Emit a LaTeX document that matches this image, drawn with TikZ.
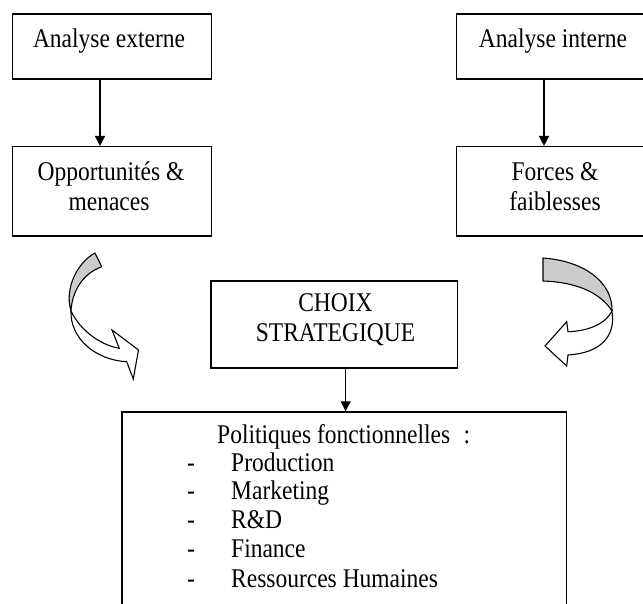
\documentclass[tikz,border=0pt]{standalone}
\usepackage{fontspec}
\setmainfont{Liberation Serif}[FakeStretch=0.87]
\usetikzlibrary{arrows.meta}
\begin{document}
\begin{tikzpicture}[x=1pt,y=-1pt,
  box/.style={draw=black, line width=1.5pt, fill=white, inner sep=0pt},
  txt/.style={font=\fontsize{27pt}{30pt}\selectfont, inner sep=0pt, text=black},
  conn/.style={line width=1.4pt, -{Triangle[width=10pt,length=10pt]}},
  ribbonback/.style={draw=black, line width=1.1pt, fill=black!20, line join=round},
  ribbonfront/.style={draw=black, line width=1.1pt, fill=white, line join=miter}
]
\useasboundingbox (0,0) rectangle (643,603);
\clip (0,0) rectangle (643,603);
\fill[white] (0,0) rectangle (643,603);

% boxes
\node[box, minimum width=199pt, minimum height=65pt] (ae) at (112.2,46.5) {};
\node[box, minimum width=199pt, minimum height=89.3pt] (om) at (112.2,191.35) {};
\node[box, minimum width=199pt, minimum height=65pt] (ai) at (556.2,46.5) {};
\node[box, minimum width=199pt, minimum height=89.3pt] (fb) at (556.2,191.35) {};
\node[box, minimum width=246.3pt, minimum height=87pt] (cs) at (334.15,324.5) {};
\node[box, minimum width=444.7pt, minimum height=208pt] (pf) at (344.35,516) {};

% texts
\node[txt, anchor=base] (t1) at (109,47.3) {Analyse externe};
\node[txt, anchor=base] (t2a) at (111,180) {Opportunités \&};
\node[txt, anchor=base] (t2b) at (109,210) {menaces};
\node[txt, anchor=base] (t3) at (553,47.3) {Analyse interne};
\node[txt, anchor=base] (t4a) at (555,180) {Forces \&};
\node[txt, anchor=base] (t4b) at (555,210) {faiblesses};
\node[txt, anchor=base] (t5a) at (335.5,311.7) {CHOIX};
\node[txt, anchor=base] (t5b) at (335.5,341.7) {STRATEGIQUE};
\node[txt, anchor=base west] (p0) at (217,443.3) {Politiques fonctionnelles\hspace{0.5em}:};
\foreach \y/\t [count=\i] in {471/Production, 499.5/Marketing, 528/R\&D, 557/Finance, 587/Ressources Humaines}{
  \node[txt, anchor=base] (d\i) at (191,\y) {-};
  \node[txt, anchor=base west] (p\i) at (231,\y) {\t};
}

% connectors
\draw[conn] ([xshift=-12.2pt]ae.south) -- ([xshift=-12.2pt]om.north);
\draw[conn] ([xshift=-12.2pt]ai.south) -- ([xshift=-12.2pt]fb.north);
\draw[conn] ([xshift=11.5pt]cs.south) -- ([xshift=11.5pt]cs.south |- pf.north);

% left curved arrow
\path[ribbonback] (95,253) .. controls (78,262) and (64,288) .. (71,311)
   .. controls (72,292) and (82,274) .. (101.7,266.7) -- cycle;
\path[ribbonfront] (71,311) .. controls (80,330) and (100,345) .. (119.3,348.3)
   -- (112,330) -- (138.5,350) -- (133.3,379) -- (126.7,361.7)
   .. controls (95,360) and (70,338) .. (71,311) -- cycle;

% right curved arrow
\path[ribbonback] (543,258) .. controls (585,261) and (613,283) .. (612,311)
   .. controls (600,292) and (575,282) .. (543,281) -- cycle;
\path[ribbonfront] (612,311) .. controls (606,323) and (590,331) .. (568,331.7)
   -- (566.7,321.7) -- (545,346) -- (566.7,366) -- (568,355)
   .. controls (600,353) and (616,337) .. (612,311) -- cycle;
\end{tikzpicture}
\end{document}
